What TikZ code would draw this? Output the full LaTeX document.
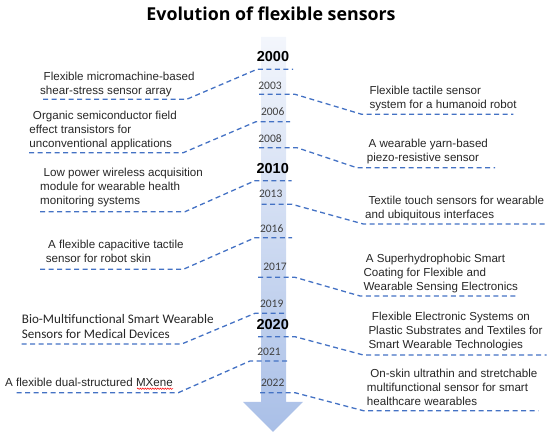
\documentclass[tikz,border=0pt]{standalone}
\usepackage{fontspec}
\setmainfont{Liberation Sans}
\newfontfamily\calfont{Carlito}
\newfontfamily\headfont{Open Sans}
\usepackage{xcolor}
\usepackage{tikz}
\usetikzlibrary{decorations.pathmorphing}
\definecolor{EvoBlue}{HTML}{4472C4}
\definecolor{EvoText}{HTML}{262626}
\definecolor{EvoYear}{HTML}{404040}
\definecolor{EvoTop}{HTML}{F3F6FC}
\definecolor{EvoBottom}{HTML}{A9BFE7}

\begin{document}
\begin{tikzpicture}[x=1pt,y=-1pt,
  link/.style={EvoBlue,line width=1.3pt,dash pattern=on 5pt off 3.5pt},
  paper/.style={anchor=north west,align=left,inner sep=0pt,text=EvoText,font=\fontsize{11.6}{14}\selectfont},
  yr/.style={inner sep=0pt,text=EvoYear,font=\calfont\fontsize{11.5}{13}\selectfont},
  bigyr/.style={inner sep=0pt,text=black,font=\bfseries\fontsize{14.5}{16}\selectfont}]
\path[use as bounding box] (0,0) rectangle (550,435);
\node[inner sep=0pt,font=\headfont\bfseries\fontsize{17.8}{20}\selectfont] (title) at (271,14) {Evolution of flexible sensors};
\shade[top color=EvoTop,bottom color=EvoBottom] (261,37) -- (286,37) -- (286,402) -- (303,402) -- (273,432) -- (243,402) -- (261,402) -- cycle;
\node[bigyr] (y2000) at (273,56.7) {2000};
\node[yr] (y2003) at (270,85.7) {2003};
\node[yr] (y2006) at (272.7,111.7) {2006};
\node[yr] (y2008) at (270,139) {2008};
\node[bigyr] (y2010) at (272.7,168.3) {2010};
\node[yr] (y2013) at (270.7,194.3) {2013};
\node[yr] (y2016) at (271.7,228.3) {2016};
\node[yr] (y2017) at (275,267.3) {2017};
\node[yr] (y2019) at (271.7,304) {2019};
\node[bigyr] (y2020) at (272.7,325) {2020};
\node[yr] (y2021) at (269,351.7) {2021};
\node[yr] (y2022) at (272.7,382.7) {2022};
\node[paper] (left1) at (40,72.2) {\hspace*{.3em}Flexible micromachine-based\\shear-stress sensor array};
\node[paper] (left2) at (29.3,110.5) {\hspace*{.3em}Organic semiconductor field\\effect transistors for\\unconventional applications};
\node[paper] (left3) at (40,168.2) {\hspace*{.3em}Low power wireless acquisition\\module for wearable health\\monitoring systems};
\node[paper] (left4) at (45.7,239.8) {\hspace*{.2em}A flexible capacitive tactile\\sensor for robot skin};
\node[paper,font=\calfont\fontsize{13.1}{14.7}\selectfont] (left5) at (21.7,314.3) {Bio-Multifunctional Smart Wearable\\Sensors for Medical Devices};
\node[paper] (left6) at (5,377.8) {A flexible dual-structured MXene};
\node[paper] (right1) at (369.3,85.5) {Flexible tactile sensor\\system for a humanoid robot};
\node[paper] (right2) at (366.7,138.8) {\hspace*{.15em}A wearable yarn-based\\piezo-resistive sensor};
\node[paper] (right3) at (365,195.5) {\hspace*{.3em}Textile touch sensors for wearable\\and ubiquitous interfaces};
\node[paper] (right4) at (363.3,253.8) {\hspace*{.2em}A Superhydrophobic Smart\\Coating for Flexible and\\Wearable Sensing Electronics};
\node[paper] (right5) at (368.3,312.2) {\hspace*{.3em}Flexible Electronic Systems on\\Plastic Substrates and Textiles for\\Smart Wearable Technologies};
\node[paper] (right6) at (366.7,368.8) {\hspace*{.3em}On-skin ultrathin and stretchable\\multifunctional sensor for smart\\healthcare wearables};
\draw[red,line width=0.5pt,decorate,decoration={snake,amplitude=0.7pt,segment length=2.5pt}] ([xshift=-36pt,yshift=-2pt]left6.south east) -- ([yshift=-2pt]left6.south east);
\coordinate (l1a) at (43,99.3); \coordinate (l1b) at (186.7,99.3); \coordinate (l1c) at (257,69.3); \coordinate (l1d) at (293,69.3);
\coordinate (l2a) at (29,152.7); \coordinate (l2b) at (183.3,152.7); \coordinate (l2c) at (256,121.7); \coordinate (l2d) at (290,121.7);
\coordinate (l3a) at (40,211.7); \coordinate (l3b) at (185,211.7); \coordinate (l3c) at (255,180.7); \coordinate (l3d) at (291.7,180.7);
\coordinate (l4a) at (40,269.3); \coordinate (l4b) at (183.3,269.3); \coordinate (l4c) at (255,237.7); \coordinate (l4d) at (292,237.7);
\coordinate (l5a) at (21.7,344); \coordinate (l5b) at (181.7,344); \coordinate (l5c) at (255,313.3); \coordinate (l5d) at (287,313.3);
\coordinate (l6a) at (16.7,392.7); \coordinate (l6b) at (178.3,392.7); \coordinate (l6c) at (250,361); \coordinate (l6d) at (287,361);
\coordinate (r1a) at (259,94.3); \coordinate (r1b) at (295,94.3); \coordinate (r1c) at (361.7,114.3); \coordinate (r1d) at (513.3,114.3);
\coordinate (r2a) at (259,147.7); \coordinate (r2b) at (297,147.7); \coordinate (r2c) at (356.7,167.7); \coordinate (r2d) at (495,167.7);
\coordinate (r3a) at (261.7,204.3); \coordinate (r3b) at (292,204.3); \coordinate (r3c) at (363.3,224); \coordinate (r3d) at (546.7,224);
\coordinate (r4a) at (258,277.3); \coordinate (r4b) at (295,277.3); \coordinate (r4c) at (360,296); \coordinate (r4d) at (516.7,296);
\coordinate (r5a) at (258,336.7); \coordinate (r5b) at (295,336.7); \coordinate (r5c) at (363.3,355); \coordinate (r5d) at (546.7,355);
\coordinate (r6a) at (260,392.7); \coordinate (r6b) at (295,392.7); \coordinate (r6c) at (363.3,410.7); \coordinate (r6d) at (538.3,410.7);
\draw[link] (l1a) -- (l1b) -- (l1c) -- (l1d);
\draw[link] (l2a) -- (l2b) -- (l2c) -- (l2d);
\draw[link] (l3a) -- (l3b) -- (l3c) -- (l3d);
\draw[link] (l4a) -- (l4b) -- (l4c) -- (l4d);
\draw[link] (l5a) -- (l5b) -- (l5c) -- (l5d);
\draw[link] (l6a) -- (l6b) -- (l6c) -- (l6d);
\draw[link] (r1a) -- (r1b) -- (r1c) -- (r1d);
\draw[link] (r2a) -- (r2b) -- (r2c) -- (r2d);
\draw[link] (r3a) -- (r3b) -- (r3c) -- (r3d);
\draw[link] (r4a) -- (r4b) -- (r4c) -- (r4d);
\draw[link] (r5a) -- (r5b) -- (r5c) -- (r5d);
\draw[link] (r6a) -- (r6b) -- (r6c) -- (r6d);
\end{tikzpicture}
\end{document}
